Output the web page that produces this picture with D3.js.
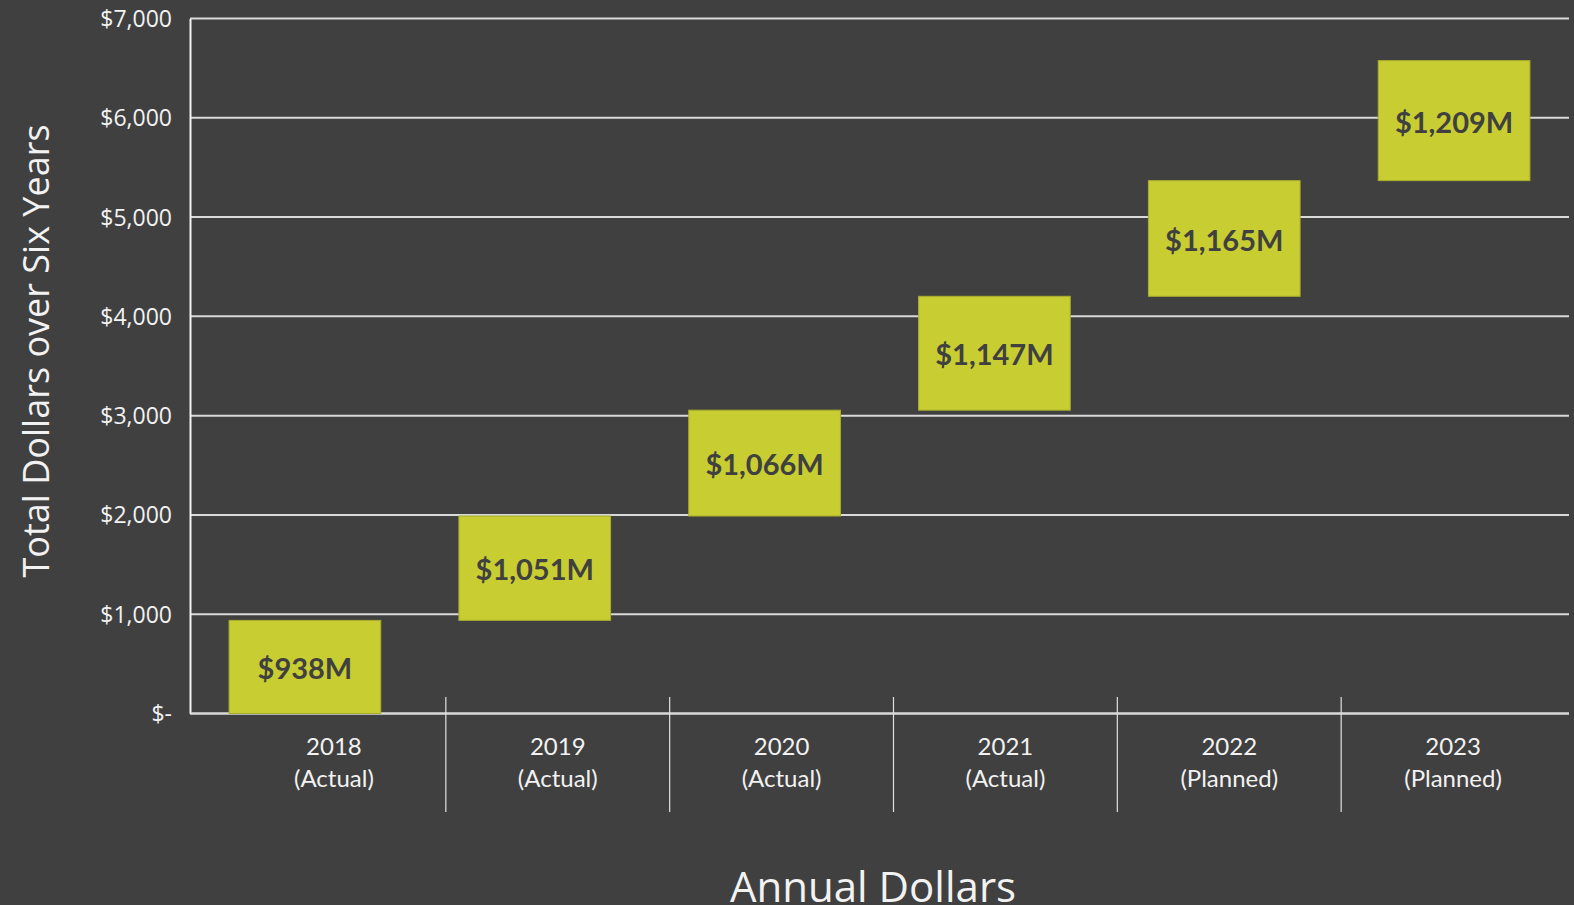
<!DOCTYPE html>
<html>
<head>
<meta charset="utf-8">
<script src="https://cdn.jsdelivr.net/npm/d3@7"></script>
<style>
  html, body { margin: 0; padding: 0; background: #404040; overflow: hidden; }
  svg { display: block; }
</style>
</head>
<body>
<script>
// annual spend per year, $M
const years = ["2018", "2019", "2020", "2021", "2022", "2023"];
const status = ["(Actual)", "(Actual)", "(Actual)", "(Actual)", "(Planned)", "(Planned)"];
const annual = [938, 1051, 1066, 1147, 1165, 1209];
const yTicks = [0, 1000, 2000, 3000, 4000, 5000, 6000, 7000];

const width = 1574, height = 905;

const svg = d3.select("body").append("svg")
  .attr("width", width)
  .attr("height", height);

// running totals for the waterfall
let run = 0;
const steps = annual.map((v, i) => {
  const d = { year: years[i], label: status[i], value: v, start: run, end: run + v };
  run += v;
  return d;
});

const y = d3.scaleLinear().domain([0, 7000]).range([713.5, 18.5]);

// bars sit on one band scale, the category labels on another (as in the original)
const xBar = d3.scaleBand().domain(years).range([190, 1569])
  .paddingInner(0.34).paddingOuter(0.17);
const xCat = d3.scaleBand().domain(years).range([222, 1565]);

// gridlines
svg.append("g")
  .selectAll("line")
  .data(yTicks.filter(t => t > 0))
  .join("line")
    .attr("x1", 190).attr("x2", 1569)
    .attr("y1", d => y(d)).attr("y2", d => y(d))
    .attr("stroke", "#d9d9d9")
    .attr("stroke-width", 2);

// y axis
const yAxis = d3.axisLeft(y)
  .tickValues(yTicks)
  .tickSize(0)
  .tickPadding(18)
  .tickFormat(d => d === 0 ? "$-" : "$" + d3.format(",")(d));

svg.append("g")
  .attr("transform", "translate(190,0)")
  .call(yAxis)
  .call(g => g.select(".domain").attr("stroke", "#f2f2f2").attr("stroke-width", 2))
  .call(g => g.selectAll("text")
    .attr("fill", "#f2f2f2")
    .attr("dy", "0.35em")
    .style("font-family", "'Open Sans', sans-serif")
    .style("font-size", "23px"));

// baseline
svg.append("line")
  .attr("x1", 190).attr("x2", 1569)
  .attr("y1", y(0)).attr("y2", y(0))
  .attr("stroke", "#d9d9d9")
  .attr("stroke-width", 2.5);

// category separators
svg.append("g")
  .selectAll("line")
  .data(years.slice(1))
  .join("line")
    .attr("x1", d => xCat(d)).attr("x2", d => xCat(d))
    .attr("y1", 697).attr("y2", 812)
    .attr("stroke", "#e0e0e0")
    .attr("stroke-width", 1.2);

// waterfall bars
const bars = svg.append("g")
  .selectAll("g")
  .data(steps)
  .join("g");

bars.append("rect")
  .attr("x", d => xBar(d.year))
  .attr("y", d => y(d.end))
  .attr("width", xBar.bandwidth())
  .attr("height", d => y(d.start) - y(d.end))
  .attr("fill", "#c8cd32")
  .attr("stroke", "#a9ad2c")
  .attr("stroke-width", 1);

bars.append("text")
  .attr("x", d => xBar(d.year) + xBar.bandwidth() / 2)
  .attr("y", d => (y(d.start) + y(d.end)) / 2 + 2)
  .attr("dy", "0.35em")
  .attr("text-anchor", "middle")
  .attr("fill", "#404040")
  .style("font-family", "Lato, sans-serif")
  .style("font-weight", "bold")
  .style("font-size", "29px")
  .text(d => "$" + d3.format(",")(d.value) + "M");

// category labels
const cat = svg.append("g")
  .selectAll("text")
  .data(steps)
  .join("text")
    .attr("text-anchor", "middle")
    .attr("fill", "#f2f2f2")
    .style("font-family", "Lato, sans-serif")
    .style("font-size", "24px");

cat.append("tspan")
  .attr("x", d => xCat(d.year) + xCat.bandwidth() / 2)
  .attr("y", 755)
  .text(d => d.year);

cat.append("tspan")
  .attr("x", d => xCat(d.year) + xCat.bandwidth() / 2)
  .attr("y", 787)
  .text(d => d.label);

// axis titles
svg.append("text")
  .attr("transform", "translate(49,351) rotate(-90)")
  .attr("text-anchor", "middle")
  .attr("fill", "#f2f2f2")
  .style("font-family", "'Open Sans', sans-serif")
  .style("font-size", "36px")
  .text("Total Dollars over Six Years");

svg.append("text")
  .attr("x", 873)
  .attr("y", 902)
  .attr("text-anchor", "middle")
  .attr("fill", "#f2f2f2")
  .style("font-family", "'Open Sans', sans-serif")
  .style("font-size", "42px")
  .text("Annual Dollars");
</script>
</body>
</html>
